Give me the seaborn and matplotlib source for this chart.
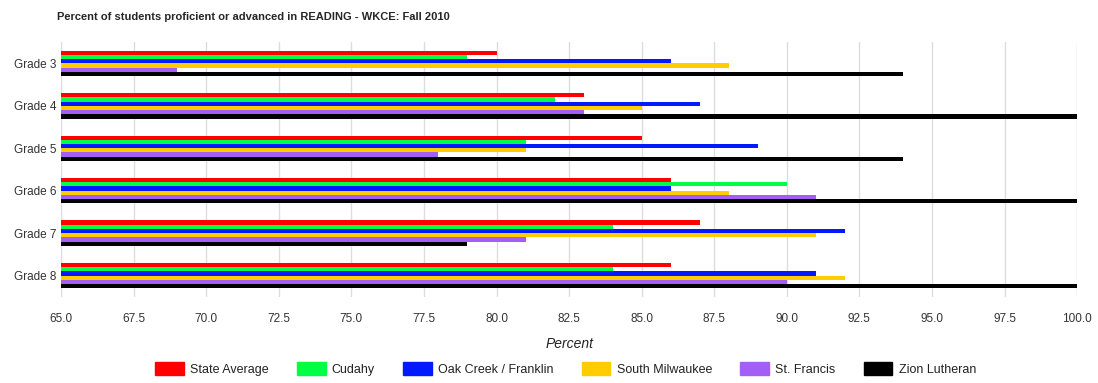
import seaborn as sns
import matplotlib.pyplot as plt
import pandas as pd

# data
grades = ["Grade 3", "Grade 4", "Grade 5", "Grade 6", "Grade 7", "Grade 8"]
series = ["State Average", "Cudahy", "Oak Creek / Franklin",
          "South Milwaukee", "St. Francis", "Zion Lutheran"]
state_avg = [80, 83, 85, 86, 87, 86]
cudahy = [79, 82, 81, 90, 84, 84]
oak_creek = [86, 87, 89, 86, 92, 91]
south_milw = [88, 85, 81, 88, 91, 92]
st_francis = [69, 83, 78, 91, 81, 90]
zion = [94, 100, 94, 100, 79, 100]
colors = ["#ff0000", "#00ff44", "#0019ff", "#ffcc00", "#a25ef5", "#000000"]

rows = []
for name, vals in zip(series, [state_avg, cudahy, oak_creek, south_milw, st_francis, zion]):
    for g, v in zip(grades, vals):
        rows.append({"grade": g, "school": name, "pct": v})
df = pd.DataFrame(rows)

sns.set_style("white")
plt.rcParams['font.family'] = ['Liberation Sans', 'DejaVu Sans']

fig, ax = plt.subplots(figsize=(10.98, 3.83), dpi=100)
fig.subplots_adjust(left=0.0556, right=0.981, top=0.89, bottom=0.225)

sns.barplot(data=df, y="grade", x="pct", hue="school", orient="h",
            palette=colors, saturation=1, width=0.6, linewidth=0,
            ax=ax, legend=False)

ax.set_xlim(65, 100)
ax.set_xticks([65 + 2.5 * i for i in range(15)])
ax.set_xticklabels([f"{65 + 2.5 * i:.1f}" for i in range(15)])
ax.grid(axis="x", color="#dddddd", linewidth=1)
ax.set_axisbelow(True)
for s in ax.spines.values():
    s.set_visible(False)
ax.tick_params(axis="both", length=0, labelsize=8.5, labelcolor="#333333")
ax.tick_params(axis="x", pad=12)
ax.set_ylabel("")
ax.set_xlabel("Percent", fontstyle="italic", fontsize=10, color="#222222", labelpad=8)

fig.text(0.052, 0.955, "Percent of students proficient or advanced in READING - WKCE: Fall 2010",
         fontsize=8, fontweight="bold", va="center")

handles = [plt.Rectangle((0, 0), 1, 1, color=c) for c in colors]
fig.legend(handles, series, loc="center", bbox_to_anchor=(0.515, 0.037), ncol=6,
           frameon=False, fontsize=9, handlelength=2.3, handleheight=1.3,
           columnspacing=2.25, handletextpad=0.5, labelcolor="#222222")

fig.savefig("out.png", dpi=100)
